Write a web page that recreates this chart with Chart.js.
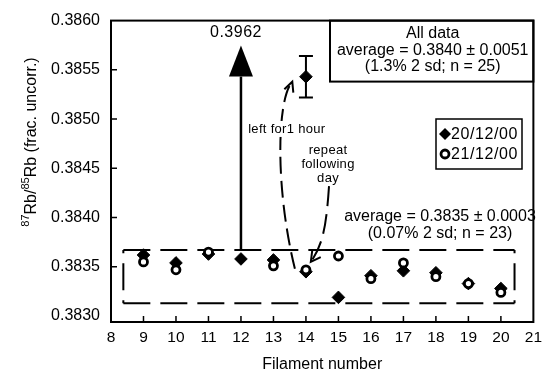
<!DOCTYPE html>
<html><head><meta charset="utf-8">
<script src="https://cdn.jsdelivr.net/npm/chart.js@4/dist/chart.umd.min.js"></script>
<style>html,body{margin:0;padding:0;background:#fff}#wrap{width:548px;height:374px}</style>
</head><body><div id="wrap"><canvas id="c" width="548" height="374"></canvas></div>
<script>
// ---- data ----
const FILAMENTS = [9, 10, 11, 12, 13, 14, 15, 16, 17, 18, 19, 20];
const RUN_20_12 = [0.38362, 0.38354, 0.38363, 0.38358, 0.38357, 0.38345, 0.38319, 0.38341, 0.38346, 0.38344, 0.38333, 0.38328];
const RUN_21_12 = [0.38355, 0.38347, 0.38365, 0.3962, 0.38351, 0.38347, 0.38361, 0.38338, 0.38354, 0.38340, 0.38333, 0.38324];
const EXTRA_FILAMENT = [14];          // 20/12/00 filament left for 1 hour
const EXTRA_VALUE = [0.38543];
const EXTRA_ERR = [0.00021];
const SERIES_LABELS = ['20/12/00', '21/12/00'];
const X_TICKS = [8, 9, 10, 11, 12, 13, 14, 15, 16, 17, 18, 19, 20, 21];
const Y_TICKS = [0.3830, 0.3835, 0.3840, 0.3845, 0.3850, 0.3855, 0.3860];
const BAND_X = [8.38, 20.42];
const BAND_Y = [0.38313, 0.38367];

const FONT = "'Liberation Sans', Arial, Helvetica, sans-serif";

function dashedLine(ctx, x1, y1, x2, y2, pat, centered) {
  const L = Math.hypot(x2 - x1, y2 - y1);
  const P = pat[0] + pat[1];
  let off = 0;
  if (centered) { off = -((L / 2 - pat[0] / 2) % P); }
  ctx.setLineDash(pat); ctx.lineDashOffset = off;
  ctx.beginPath(); ctx.moveTo(x1, y1); ctx.lineTo(x2, y2); ctx.stroke();
  ctx.setLineDash([]);
}
function vHead(ctx, fx, fy, tx, ty, len, ang) {
  const a = Math.atan2(ty - fy, tx - fx);
  ctx.setLineDash([]);
  ctx.beginPath();
  ctx.moveTo(tx - len * Math.cos(a - ang), ty - len * Math.sin(a - ang));
  ctx.lineTo(tx, ty);
  ctx.lineTo(tx - len * Math.cos(a + ang), ty - len * Math.sin(a + ang));
  ctx.stroke();
}
function textBg(ctx, t, x, y) {
  const w = ctx.measureText(t).width;
  ctx.fillStyle = '#fff'; ctx.fillRect(x - w / 2 - 2, y - 8, w + 4, 16);
  ctx.fillStyle = '#000'; ctx.fillText(t, x, y);
}

const annot = {
  id: 'annot',
  beforeDatasetsDraw(chart) {
    const { ctx, scales: { x, y } } = chart;
    ctx.save();
    ctx.strokeStyle = '#000'; ctx.lineWidth = 2;
    // dashed band box
    const L = x.getPixelForValue(BAND_X[0]), R = x.getPixelForValue(BAND_X[1]);
    const T = y.getPixelForValue(BAND_Y[1]), B = y.getPixelForValue(BAND_Y[0]);
    dashedLine(ctx, L, T, R, T, [27, 10], false);
    dashedLine(ctx, L, B, R, B, [27, 10], false);
    dashedLine(ctx, L, T, L, B, [27, 10], true);
    dashedLine(ctx, R, T, R, B, [27, 10], true);
    // off-scale arrow
    const oi = RUN_21_12.findIndex(v => v > y.max);
    if (oi >= 0) {
      const ax = x.getPixelForValue(FILAMENTS[oi]);
      const tip = y.top + 25, base = y.top + 56;
      ctx.lineWidth = 2.5;
      ctx.beginPath(); ctx.moveTo(ax, T); ctx.lineTo(ax, base); ctx.stroke();
      ctx.fillStyle = '#000';
      ctx.beginPath(); ctx.moveTo(ax, tip); ctx.lineTo(ax + 12, base); ctx.lineTo(ax - 12, base); ctx.closePath(); ctx.fill();
      ctx.font = '16px ' + FONT; ctx.textAlign = 'center'; ctx.textBaseline = 'middle';
      ctx.letterSpacing = '0.5px';
      ctx.fillText(RUN_21_12[oi].toFixed(4), ax - 5, y.top + 12);
      ctx.letterSpacing = '0px';
    }
    // error bar
    ctx.lineWidth = 2;
    EXTRA_FILAMENT.forEach((f, i) => {
      const ex = x.getPixelForValue(f);
      const y1 = y.getPixelForValue(EXTRA_VALUE[i] + EXTRA_ERR[i]);
      const y2 = y.getPixelForValue(EXTRA_VALUE[i] - EXTRA_ERR[i]);
      ctx.beginPath();
      ctx.moveTo(ex, y1); ctx.lineTo(ex, y2);
      ctx.moveTo(ex - 7, y1); ctx.lineTo(ex + 7, y1);
      ctx.moveTo(ex - 7, y2); ctx.lineTo(ex + 7, y2);
      ctx.stroke();
    });
    ctx.restore();
  },
  afterDatasetsDraw(chart) {
    const { ctx, chartArea: a, scales: { x, y } } = chart;
    ctx.save();
    ctx.strokeStyle = '#000'; ctx.fillStyle = '#000';
    // frame
    ctx.lineWidth = 2;
    ctx.strokeRect(a.left, a.top, a.right - a.left, a.bottom - a.top);
    // inward ticks
    ctx.beginPath();
    X_TICKS.forEach(v => { const p = x.getPixelForValue(v); if (p > a.left + 4 && p < a.right - 4) { ctx.moveTo(p, a.bottom); ctx.lineTo(p, a.bottom - 6); } });
    Y_TICKS.forEach(v => { const p = y.getPixelForValue(v); if (p > a.top + 8 && p < a.bottom - 8) { ctx.moveTo(a.left, p); ctx.lineTo(a.left + 6, p); } });
    ctx.lineWidth = 1.5; ctx.stroke();

    const X = v => x.getPixelForValue(v), Y = v => y.getPixelForValue(v);
    ctx.lineWidth = 2;
    // curve 1 : "left for1 hour"
    const c1 = [[13.66, 0.38348], [13.05, 0.38430], [13.10, 0.38520], [13.58, 0.38538]];
    ctx.setLineDash([17, 7]);
    ctx.beginPath(); ctx.moveTo(X(c1[0][0]), Y(c1[0][1]));
    ctx.bezierCurveTo(X(c1[1][0]), Y(c1[1][1]), X(c1[2][0]), Y(c1[2][1]), X(c1[3][0]), Y(c1[3][1]));
    ctx.stroke();
    vHead(ctx, X(c1[2][0]) + 6, Y(c1[2][1]) + 8, X(c1[3][0]), Y(c1[3][1]), 11, 0.45);
    // curve 2 : "repeat following day"
    const c2 = [[14.71, 0.38432], [14.63, 0.38392], [14.52, 0.38372], [14.15, 0.38355]];
    ctx.setLineDash([20, 8]);
    ctx.beginPath(); ctx.moveTo(X(c2[0][0]), Y(c2[0][1]));
    ctx.bezierCurveTo(X(c2[1][0]), Y(c2[1][1]), X(c2[2][0]), Y(c2[2][1]), X(c2[3][0]), Y(c2[3][1]));
    ctx.stroke();
    vHead(ctx, X(c2[2][0]), Y(c2[2][1]), X(c2[3][0]), Y(c2[3][1]), 11, 0.5);
    ctx.setLineDash([]);

    ctx.font = '13px ' + FONT; ctx.textAlign = 'center'; ctx.textBaseline = 'middle';
    ctx.letterSpacing = '0.3px';
    textBg(ctx, 'left for1 hour', X(13.41), Y(0.38490));
    ctx.fillText('repeat', X(14.68), Y(0.38468));
    ctx.fillText('following', X(14.68), Y(0.38468) + 14);
    ctx.fillText('day', X(14.68), Y(0.38468) + 28);
    ctx.letterSpacing = '0px';

    // All data box
    ctx.lineWidth = 2;
    ctx.strokeRect(330, a.top, a.right - 330, 61);
    ctx.font = '16px ' + FONT;
    const cx = (330 + a.right) / 2 + 1;
    ctx.fillText('All data', cx, a.top + 13);
    ctx.fillText('average = 0.3840 \u00b1 0.0051', cx, a.top + 30);
    ctx.fillText('(1.3% 2 sd; n = 25)', cx, a.top + 46);
    // band annotation
    ctx.fillText('average = 0.3835 \u00b1 0.0003', 440, 217);
    ctx.fillText('(0.07% 2 sd; n = 23)', 440, 234);

    // legend
    ctx.lineWidth = 1.5;
    ctx.strokeRect(436, 119, 86, 50);
    ctx.letterSpacing = '0.6px';
    chart.data.datasets.forEach((ds, i) => {
      const ly = 134 + i * 20;
      ctx.beginPath();
      if (ds.pointStyle === 'rectRot') {
        ctx.fillStyle = '#000';
        ctx.moveTo(445, ly - 6); ctx.lineTo(451, ly); ctx.lineTo(445, ly + 6); ctx.lineTo(439, ly); ctx.closePath(); ctx.fill();
      } else {
        ctx.arc(445, ly, 4, 0, Math.PI * 2); ctx.fillStyle = '#fff'; ctx.fill(); ctx.lineWidth = 2.8; ctx.stroke();
      }
      ctx.fillStyle = '#000'; ctx.textAlign = 'left'; ctx.font = '16px ' + FONT;
      ctx.fillText(ds.label, 451, ly + 1);
    });
    ctx.letterSpacing = '0px';

    // y title with superscripts
    ctx.save();
    ctx.translate(30, 142); ctx.rotate(-Math.PI / 2);
    const parts = [['87', true], ['Rb/', false], ['85', true], ['Rb (frac. uncorr.)', false]];
    const fnt = s => (s ? '11px ' : '16px ') + FONT;
    let tot = 0;
    parts.forEach(p => { ctx.font = fnt(p[1]); tot += ctx.measureText(p[0]).width; });
    let px = -tot / 2;
    ctx.textAlign = 'left'; ctx.textBaseline = 'alphabetic'; ctx.fillStyle = '#000';
    parts.forEach(p => { ctx.font = fnt(p[1]); ctx.fillText(p[0], px, p[1] ? -1.5 : 5.7); px += ctx.measureText(p[0]).width; });
    ctx.restore();
    ctx.restore();
  }
};

const ds1 = FILAMENTS.map((f, i) => ({ x: f, y: RUN_20_12[i] }))
  .concat(EXTRA_FILAMENT.map((f, i) => ({ x: f, y: EXTRA_VALUE[i] })));
const ds2 = FILAMENTS.map((f, i) => ({ x: f, y: RUN_21_12[i] }));

new Chart(document.getElementById('c'), {
  type: 'scatter',
  data: {
    datasets: [
      { label: SERIES_LABELS[0], data: ds1, pointStyle: 'rectRot', pointRadius: 6.3, pointBackgroundColor: '#000', pointBorderColor: '#000', pointBorderWidth: 1, order: 1 },
      { label: SERIES_LABELS[1], data: ds2, pointStyle: 'circle', pointRadius: 4, pointBackgroundColor: '#fff', pointBorderColor: '#000', pointBorderWidth: 2.8, order: 0 }
    ]
  },
  options: {
    responsive: false, animation: false, devicePixelRatio: 1,
    layout: { padding: { left: 0, right: 7, top: 20, bottom: 0 } },
    plugins: { legend: { display: false }, tooltip: { enabled: false } },
    scales: {
      x: {
        type: 'linear', min: 8, max: 21,
        afterBuildTicks: s => { s.ticks = X_TICKS.map(v => ({ value: v })); },
        ticks: { font: { family: FONT, size: 15.5 }, color: '#000', padding: 6, callback: v => String(v) },
        grid: { display: false, drawTicks: false }, border: { display: false },
        title: { display: true, text: 'Filament number', font: { family: FONT, size: 16 }, color: '#000', padding: { top: 4, bottom: 0 } },
        afterFit: s => { s.height = 52; }
      },
      y: {
        type: 'linear', min: 0.38294, max: 0.3860,
        afterBuildTicks: s => { s.ticks = Y_TICKS.map(v => ({ value: v })); },
        ticks: { font: { family: FONT, size: 16 }, color: '#000', padding: 11, callback: v => Number(v).toFixed(4) },
        grid: { display: false, drawTicks: false }, border: { display: false },
        afterFit: s => { s.width = 111; }
      }
    }
  },
  plugins: [annot]
});
</script>
</body></html>
